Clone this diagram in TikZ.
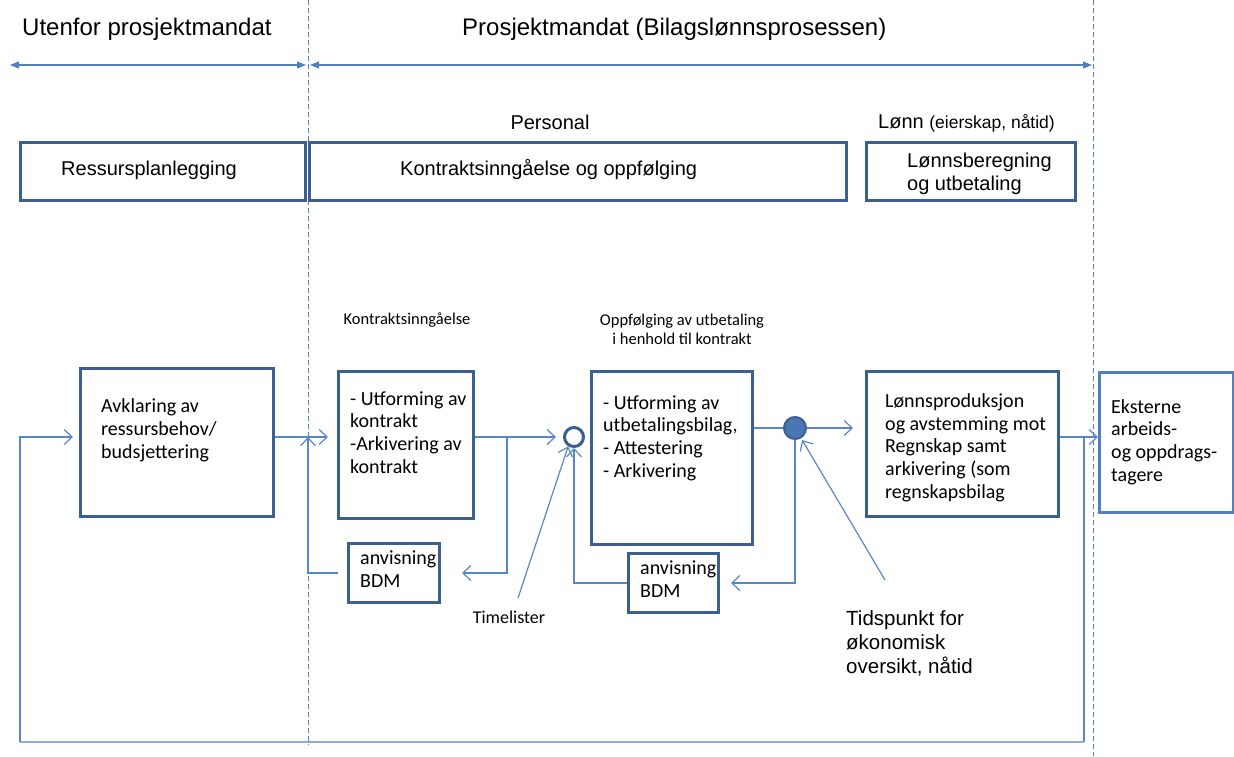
\documentclass[tikz,border=0pt]{standalone}
\usepackage{fontspec}
\setmainfont{Liberation Sans}
\newfontfamily\calfont{Carlito}
\usetikzlibrary{arrows.meta}

\definecolor{boxblue}{HTML}{3B5F8F}
\definecolor{linkblue}{HTML}{5B86C5}
\definecolor{dashblue}{HTML}{4F81BD}
\definecolor{extblue}{HTML}{4F81BD}
\definecolor{baseblue}{HTML}{8DAAD8}
\definecolor{dotfill}{HTML}{4A76B4}

\tikzset{
  frame/.style={draw=boxblue, line width=3pt, inner sep=0pt, anchor=north west},
  extframe/.style={draw=extblue, line width=2.5pt, inner sep=0pt, anchor=north west},
  link/.style={draw=linkblue, line width=1.2pt},
  opentip/.style={-{Straight Barb[length=8pt,width=15pt,line width=1.2pt]}},
  dashline/.style={draw=dashblue, line width=1pt, dash pattern=on 5pt off 3pt},
  spanarrow/.style={draw=dashblue, line width=1.2pt, {Triangle[length=9pt,width=7pt]}-{Triangle[length=9pt,width=7pt]}},
  titletext/.style={font=\fontsize{24}{28}\selectfont, inner sep=0pt, anchor=west},
  headtext/.style={font=\fontsize{20}{23}\selectfont, inner sep=0pt},
  % multi-line text: the base anchor sits on the baseline of the last line
  bodytext/.style={font=\calfont\fontsize{20}{22.6}\selectfont, inner sep=0pt, align=left, anchor=base west},
  smalltext/.style={font=\calfont\fontsize{16.5}{19}\selectfont, inner sep=0pt, align=center},
}

\begin{document}
\begin{tikzpicture}[x=1pt,y=-1pt]
\useasboundingbox (0,0) rectangle (1234,756);

% mandate borders
\draw[dashline] (308,0) -- (308,745);
\draw[dashline] (1093,0) -- (1093,756);

% headings and span arrows
\node[titletext] (tout) at (22,29) {Utenfor prosjektmandat};
\node[titletext] (tin) at (462,29) {Prosjektmandat (Bilagslønnsprosessen)};
\coordinate (sa) at (10,65);
\coordinate (sb) at (306,65);
\coordinate (sc) at (310,65);
\coordinate (sd) at (1092,65);
\draw[spanarrow] (sa) -- (sb);
\draw[spanarrow] (sc) -- (sd);

\node[headtext] (hpers) at (550,122) {Personal};
\node[headtext, anchor=west] (hlonn) at (878,123) {Lønn {\fontsize{17.5}{20}\selectfont (eierskap, nåtid)}};

% upper process boxes
\node[frame, minimum width=285pt, minimum height=58pt] (ress) at (19,141) {};
\node[headtext, anchor=west] (tress) at (61,170) {Ressursplanlegging};
\node[frame, minimum width=537pt, minimum height=58pt] (kont) at (308,141) {};
\node[headtext, anchor=west] (tkont) at (400,170) {Kontraktsinngåelse og oppfølging};
\node[frame, minimum width=209pt, minimum height=58pt] (lonn) at (865,141) {};
\node[headtext, align=left, anchor=base west] (tlonn) at (907,190) {Lønnsberegning\\og utbetaling};

% lower process boxes
\node[frame, minimum width=193pt, minimum height=148pt] (avk) at (79,367) {};
\node[bodytext] (tavk) at (101,458) {Avklaring av\\ressursbehov/\\budsjettering};

\node[smalltext] (lkon) at (407,320) {Kontraktsinngåelse};
\node[frame, minimum width=135pt, minimum height=147pt] (kon) at (337,370) {};
\node[bodytext] (tkon) at (350,473) {- Utforming av\\kontrakt\\-Arkivering av\\kontrakt};

\node[smalltext] (lopp) at (682,329) {Oppfølging av utbetaling\\i henhold til kontrakt};
\node[frame, minimum width=161pt, minimum height=173pt] (opp) at (590,370) {};
\node[bodytext] (topp) at (603,477) {- Utforming av\\utbetalingsbilag,\\- Attestering\\- Arkivering};

\node[frame, minimum width=192pt, minimum height=145pt] (lprod) at (865,370) {};
\node[bodytext] (tlprod) at (885,498) {Lønnsproduksjon\\og avstemming mot\\Regnskap samt\\arkivering (som\\regnskapsbilag};

\node[extframe, minimum width=134pt, minimum height=140pt] (ext) at (1098,371) {};
\node[bodytext] (text) at (1111,481) {Eksterne\\arbeids-\\og oppdrags-\\tagere};

\node[frame, minimum width=91pt, minimum height=59pt] (bdma) at (347,542) {};
\node[bodytext] (tbdma) at (360,587) {anvisning\\BDM};
\node[frame, minimum width=90pt, minimum height=59pt] (bdmb) at (627,552) {};
\node[bodytext] (tbdmb) at (640,597) {anvisning\\BDM};

% decision points
\node[circle, draw=boxblue, line width=3pt, fill=white, minimum size=19pt, inner sep=0pt] (oc) at (574,437) {};
\node[circle, draw=boxblue, line width=2pt, fill=dotfill, minimum size=22pt, inner sep=0pt] (fc) at (795,428) {};

% free labels
\node[font=\calfont\fontsize{18}{21}\selectfont, inner sep=0pt] (tl) at (509,617) {Timelister};
\node[font=\fontsize{20.5}{24}\selectfont, inner sep=0pt, align=left, anchor=base west] (tp) at (846,673) {Tidspunkt for\\økonomisk\\oversikt, nåtid};

% flow rows
\coordinate (r1) at (0,437);
\coordinate (r2) at (0,428);
\coordinate (j0) at (308,437);
\coordinate (j1) at (507,437);
\coordinate (fbr) at (1084,437);
\coordinate (fbbr) at (1084,742);
\coordinate (fbbl) at (20,742);
\coordinate (fbl) at (20,437);
\coordinate (tls) at (518,598);
\coordinate (tps) at (885,580);

% connectors
\draw[link, opentip, shorten >=9pt] (avk.east |- r1) -- (kon.west |- r1);
\draw[link, opentip, shorten >=7pt] (kon.east |- r1) -- (oc);
\draw[link, opentip, shorten >=21pt] (j1) |- (bdma.east);
\draw[link, opentip, shorten <=9pt] (bdma.west) -| (j0);
\draw[link, opentip] (tls) -- (oc.238);
\draw[link, opentip] (bdmb.west) -| (oc.south);
\draw[link] (opp.east |- r2) -- (fc);
\draw[link, opentip, shorten >=12pt] (fc) -- (lprod.west |- r2);
\draw[link, opentip, shorten >=11pt] (fc) |- (bdmb.east);
\draw[link, opentip, shorten >=14pt] (tps) -- (fc.center);
\draw[link, opentip] (lprod.east |- r1) -- (ext.west |- r1);

% feedback loop back to resource planning
\draw[link] (fbr) -- (fbbr);
\draw[draw=baseblue, line width=2.5pt] (fbbr) -- (fbbl);
\draw[link, opentip, shorten >=6pt] (fbbl) -- (fbl) -- (avk.west |- r1);
\end{tikzpicture}
\end{document}
